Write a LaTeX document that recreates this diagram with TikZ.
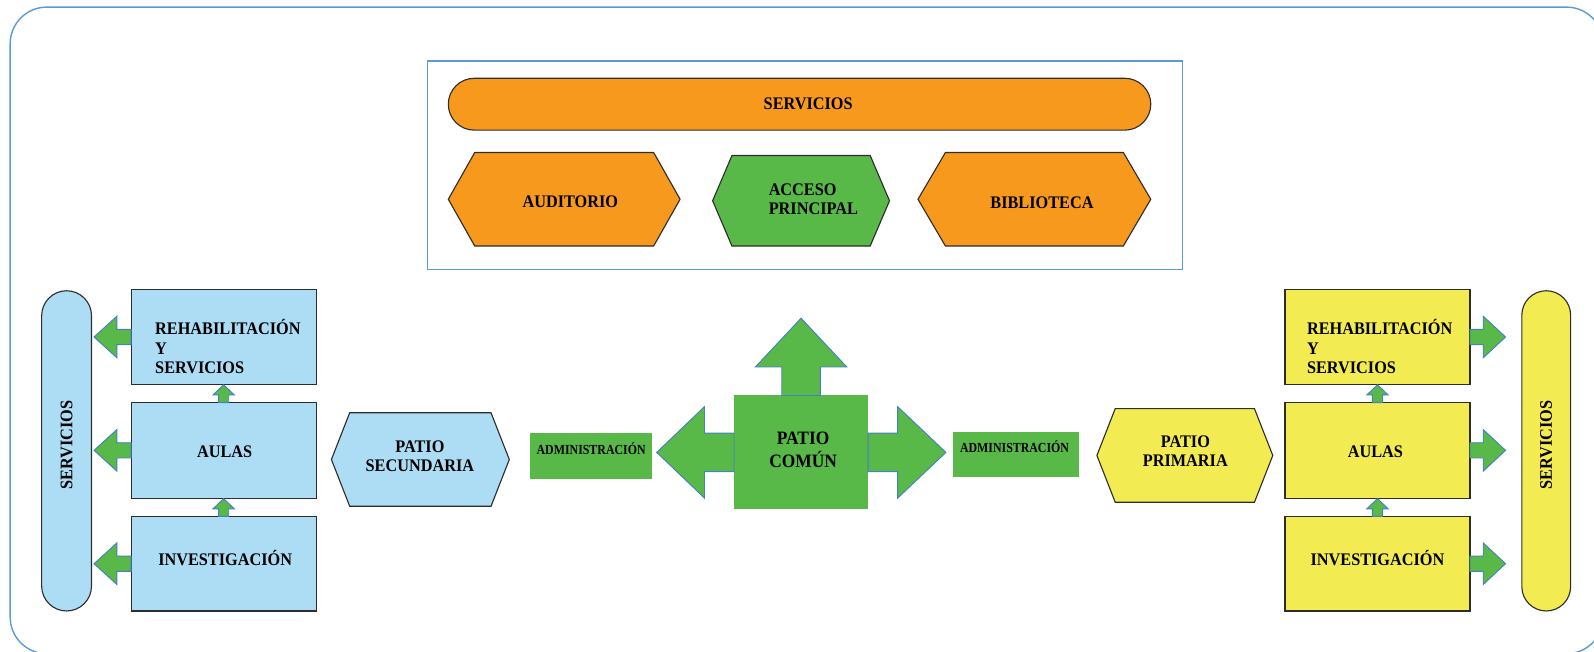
\documentclass[tikz,border=0pt]{standalone}
\usepackage{fontspec}
\setmainfont{Liberation Serif}
\newfontfamily\narrowserif[FakeStretch=0.92]{Liberation Serif}
\newfontfamily\tightserif[FakeStretch=0.86]{Liberation Serif}
\usetikzlibrary{calc}

\definecolor{frameblue}{RGB}{91,155,213}
\definecolor{arrowblue}{RGB}{68,128,196}
\definecolor{skyfill}{RGB}{173,220,245}
\definecolor{lemonfill}{RGB}{243,235,82}
\definecolor{orangefill}{RGB}{247,153,29}
\definecolor{leafgreen}{RGB}{88,184,72}
\definecolor{edgegray}{RGB}{45,45,45}

\tikzset{
  lbl/.style={font=\narrowserif\fontsize{17.4}{19}\selectfont\bfseries, inner sep=0pt},
  smalllbl/.style={font=\tightserif\fontsize{13.6}{14}\selectfont\bfseries, inner sep=0pt},
  biglbl/.style={font=\narrowserif\fontsize{18.6}{23}\selectfont\bfseries, inner sep=0pt, align=center},
  body/.style={draw=none, inner sep=0pt, outer sep=0pt, rectangle},
  outlined/.style={draw=edgegray, line width=1.1pt},
  greenblock/.style={fill=leafgreen, draw=arrowblue, line width=0.9pt, line join=miter},
}

% block arrow: #1 base point, #2 direction angle, #3 shaft length,
% #4 shaft half width, #5 head length, #6 head half width
\newcommand\greenarrow[6]{%
  \path[greenblock, shift={(#1)}, rotate=#2]
    (0,-#4) -- (#3,-#4) -- (#3,-#6) -- ({#3+#5},0) -- (#3,#6) -- (#3,#4) -- (0,#4) -- cycle;}

% hexagon drawn around a rectangular body node: #1 node, #2 slant, #3 fill
\newcommand\hexagonat[3]{%
  \draw[outlined, fill=#3] (#1.north west) -- (#1.north east) -- ([xshift=#2]#1.east)
    -- (#1.south east) -- (#1.south west) -- ([xshift=-#2]#1.west) -- cycle;}

\begin{document}
\begin{tikzpicture}[x=1pt,y=-1pt]
\useasboundingbox (0,0) rectangle (1568,641);
\clip (0,0) rectangle (1568,641);

% outer frame
\draw[frameblue, line width=1.4pt, rounded corners=36] (10,7) rectangle (1577,643);

% ---- upper block: common services ----
\node[body, draw=frameblue, line width=1pt, minimum width=742, minimum height=205] (upper) at (792,162.5) {};
\node[body, outlined, fill=orangefill, rounded corners=25.5, minimum width=691, minimum height=51] (servbar) at (786.5,102.5) {};
\node[lbl] (servbartxt) at (795,102) {SERVICIOS};

\node[body, minimum width=176, minimum height=92] (aud) at (555,196) {};
\hexagonat{aud}{26}{orangefill}
\node[lbl] (audtxt) at (561,198) {AUDITORIO};

\node[body, minimum width=136, minimum height=89] (acc) at (788,197.5) {};
\hexagonat{acc}{19}{leafgreen}
\node[lbl, align=left, anchor=west] (acctxt) at (756,196) {ACCESO\\PRINCIPAL};

\node[body, minimum width=175, minimum height=92] (bib) at (1017.5,196) {};
\hexagonat{bib}{27}{orangefill}
\node[lbl] (bibtxt) at (1025,199) {BIBLIOTECA};

% ---- left wing: secondary ----
\node[body, outlined, fill=skyfill, rounded corners=24.5, minimum width=49, minimum height=315] (pillL) at (65.5,443.5) {};
\node[lbl, rotate=90] (pillLtxt) at (65.5,438) {SERVICIOS};

\node[body, outlined, fill=skyfill, minimum width=182, minimum height=93] (rehL) at (220,331.5) {};
\node[body, outlined, fill=skyfill, minimum width=182, minimum height=94] (aulL) at (220,443) {};
\node[body, outlined, fill=skyfill, minimum width=182, minimum height=93] (invL) at (220,554.5) {};
\node[lbl, align=left, anchor=west] (rehLtxt) at (152.5,341) {REHABILITACIÓN\\Y\\SERVICIOS};
\node[lbl] (aulLtxt) at (221,444) {AULAS};
\node[lbl] (invLtxt) at (221.5,549) {INVESTIGACIÓN};

\greenarrow{rehL.west}{180}{14}{7.5}{22.5}{20.5}
\greenarrow{aulL.west}{180}{14}{7.5}{22.5}{20.5}
\greenarrow{invL.west}{180}{14}{7.5}{22.5}{20.5}
\greenarrow{aulL.north}{90}{7.5}{5}{10}{10.5}
\greenarrow{invL.north}{90}{7.5}{5}{10}{10.5}

\node[body, minimum width=139, minimum height=92] (patS) at (413.5,452) {};
\hexagonat{patS}{18}{skyfill}
\node[lbl, align=center] (patStxt) at (413,448.5) {PATIO\\SECUNDARIA};

% ---- centre: common courtyard ----
\node[body, fill=leafgreen, minimum width=120, minimum height=45] (admL) at (581,448.5) {};
\node[smalllbl] (admLtxt) at (581.5,441.5) {ADMINISTRACIÓN};

\node[body, fill=leafgreen, minimum width=132, minimum height=112] (patC) at (788,445) {};
\greenarrow{patC.west}{180}{29}{19}{47}{45}
\greenarrow{patC.east}{0}{29}{19}{47.5}{45}
\greenarrow{patC.north}{90}{28}{19}{48}{45}
\node[biglbl] (patCtxt) at (790,442.5) {PATIO\\COMÚN};

\node[body, fill=leafgreen, minimum width=124, minimum height=44] (admR) at (999,447) {};
\node[smalllbl] (admRtxt) at (998,439.5) {ADMINISTRACIÓN};

% ---- right wing: primary ----
\node[body, minimum width=137, minimum height=92] (patP) at (1165.5,448) {};
\hexagonat{patP}{18}{lemonfill}
\node[lbl, align=center] (patPtxt) at (1166,444) {PATIO\\PRIMARIA};

\node[body, outlined, fill=lemonfill, minimum width=182, minimum height=93] (rehR) at (1355,331.5) {};
\node[body, outlined, fill=lemonfill, minimum width=182, minimum height=94] (aulR) at (1355,443) {};
\node[body, outlined, fill=lemonfill, minimum width=182, minimum height=93] (invR) at (1355,554.5) {};
\node[lbl, align=left, anchor=west] (rehRtxt) at (1285.5,341) {REHABILITACIÓN\\Y\\SERVICIOS};
\node[lbl] (aulRtxt) at (1353,444) {AULAS};
\node[lbl] (invRtxt) at (1355,549) {INVESTIGACIÓN};

\node[body, outlined, fill=lemonfill, rounded corners=24, minimum width=48, minimum height=315] (pillR) at (1521,443.5) {};
\node[lbl, rotate=90] (pillRtxt) at (1521,438) {SERVICIOS};

\greenarrow{rehR.east}{0}{13}{7.5}{22}{20.5}
\greenarrow{aulR.east}{0}{13}{7.5}{22}{20.5}
\greenarrow{invR.east}{0}{13}{7.5}{22}{20.5}
\greenarrow{aulR.north}{90}{7.5}{5}{10}{10.5}
\greenarrow{invR.north}{90}{7.5}{5}{10}{10.5}
\end{tikzpicture}
\end{document}
